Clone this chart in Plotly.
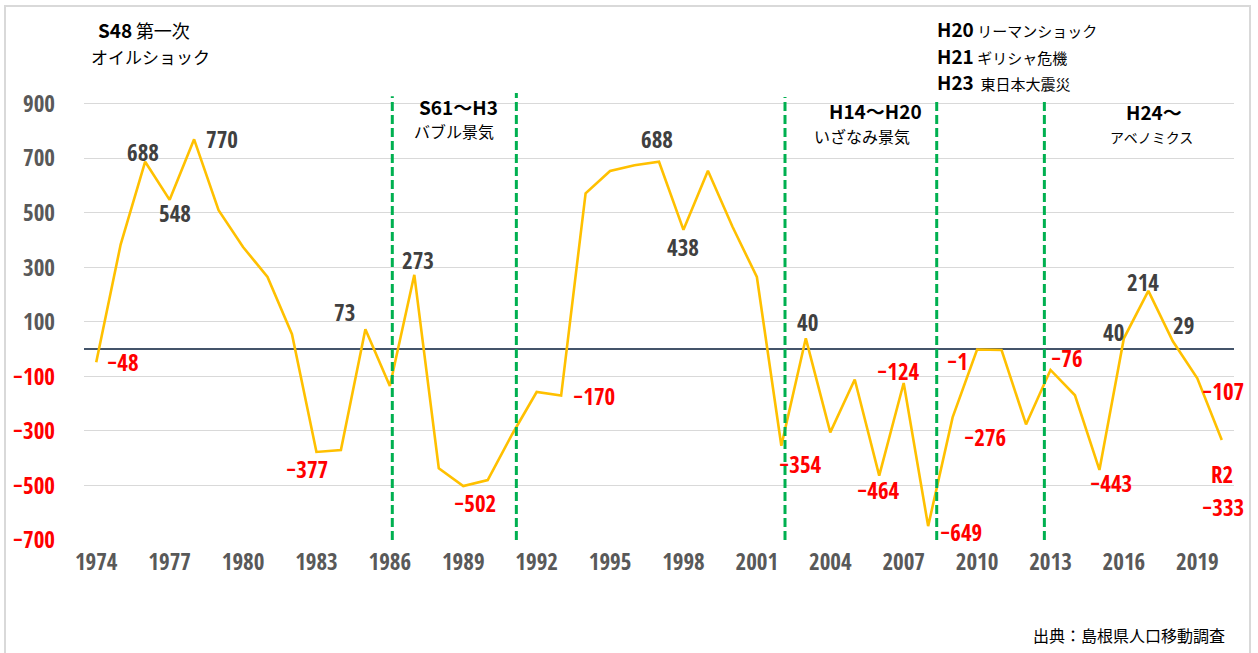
import plotly.graph_objects as go

# ---------------- data ----------------
years = list(range(1974, 2021))
values = [-48, 385, 688, 548, 770, 510, 375, 265, 55, -377,
          -370, 73, -135, 273, -437, -502, -480, -312, -157, -170,
          572, 654, 675, 688, 438, 655, 450, 265, -354, 40,
          -305, -111, -464, -124, -649, -250, -1, -3, -276, -76,
          -169, -443, 40, 214, 29, -107, -333]

x_tick_years = [1974, 1977, 1980, 1983, 1986, 1989, 1992, 1995, 1998, 2001,
                2004, 2007, 2010, 2013, 2016, 2019]
y_tick_vals = [900, 700, 500, 300, 100, -100, -300, -500, -700]

labelled_years = [1974, 1976, 1977, 1978, 1983, 1985, 1987, 1989, 1993, 1997,
                  1998, 2002, 2003, 2006, 2007, 2008, 2010, 2012, 2013, 2015,
                  2016, 2017, 2018, 2019]
period_boundaries = [1986.1, 1991.17, 2002.15, 2008.35, 2012.75]
period_tops = [928, 943, 925, 914, 914]

W, H = 1258, 653
ML, MR, MT, MB = 84, 24, 93, 113
PW, PH = W - ML - MR, H - MT - MB


def px(xp):
    return (xp - ML) / PW


def py(yp):
    return (H - MB - yp) / PH


NUM_FONT = "Open Sans Condensed, DejaVu Sans Condensed, sans-serif"
JP_FONT = "Noto Sans CJK JP"
RED = "#FF0000"
DARK = "#404040"


def fmt(v):
    return ("−" + str(abs(v))) if v < 0 else str(v)


fig = go.Figure()
fig.add_trace(go.Scatter(
    x=years, y=values, mode="lines",
    line=dict(color="#FFC000", width=2.6),
    hoverinfo="x+y", showlegend=False,
))

offsets = {
    1974: (27, 0), 1976: (-2, 10), 1977: (5, -13), 1978: (28, 0),
    1983: (-9, -17), 1985: (-21, 17), 1987: (4, 15), 1989: (12, -17),
    1993: (33, 0), 1997: (-2, 23), 1998: (0, -17), 2002: (19, -18),
    2003: (2, 16), 2006: (-1, -14), 2007: (-5, 12), 2008: (33, -6),
    2010: (-20, -12), 2012: (-41, -13), 2013: (17, 12), 2015: (12, -13),
    2016: (-10, 6), 2017: (-5, 9), 2018: (11, 16), 2019: (26, -13),
}
annotations = []
for yr in labelled_years:
    v = values[years.index(yr)]
    dx, dy = offsets[yr]
    annotations.append(dict(
        x=yr, y=v, xref="x", yref="y", text=fmt(v), showarrow=False,
        xshift=dx, yshift=dy, xanchor="center", yanchor="middle",
        font=dict(family=NUM_FONT, size=23, color=RED if v < 0 else DARK),
    ))
v_last = values[-1]
annotations.append(dict(x=years[-1], y=v_last, text="R2", showarrow=False,
                        xshift=0, yshift=-34, font=dict(family=NUM_FONT, size=23, color=RED)))
annotations.append(dict(x=years[-1], y=v_last, text=fmt(v_last), showarrow=False,
                        xshift=1, yshift=-67, font=dict(family=NUM_FONT, size=23, color=RED)))


def top_note(x, y, text, anchor="left", size=16):
    annotations.append(dict(
        x=px(x), y=py(y), xref="paper", yref="paper", text=text, showarrow=False,
        xanchor=anchor, yanchor="middle",
        font=dict(family=JP_FONT, size=size, color="#000000"),
    ))


B = '<b><span style="font-size:19px">{}</span></b>'
top_note(96, 29, B.format("S48") + ' <span style="font-size:18px">第一次</span>')
top_note(150, 57, "オイルショック", anchor="center", size=17)
top_note(458, 106, B.format("S61～H3"), anchor="center")
top_note(454, 131, "バブル景気", anchor="center")
top_note(875, 110, B.format("H14～H20"), anchor="center")
top_note(862, 136, "いざなみ景気", anchor="center")
top_note(935, 28, B.format("H20") + ' <span style="font-size:15px">リーマンショック</span>', size=15)
top_note(935, 55, B.format("H21") + ' <span style="font-size:15px">ギリシャ危機</span>', size=15)
top_note(935, 81, B.format("H23") + '  東日本大震災', size=15)
top_note(1154, 111, B.format("H24～"), anchor="center")
top_note(1151, 137, "アベノミクス", anchor="center", size=14)
top_note(1129, 635, "出典：島根県人口移動調査", anchor="center")

shapes = []
for xb, yt in zip(period_boundaries, period_tops):
    shapes.append(dict(type="line", xref="x", yref="y", x0=xb, x1=xb, y0=-700, y1=yt,
                       line=dict(color="#00B050", width=3, dash="9px,4px"), layer="above"))
shapes.append(dict(type="rect", xref="paper", yref="paper",
                   x0=px(5), x1=px(1250), y0=py(670), y1=py(6),
                   line=dict(color="#D9D9D9", width=2), fillcolor="rgba(0,0,0,0)"))

y_tick_text = [
    f'<span style="color:{RED}">{fmt(v)}</span>' if v < 0 else fmt(v)
    for v in y_tick_vals
]

fig.update_layout(
    width=W, height=H,
    margin=dict(l=ML, r=MR, t=MT, b=MB, autoexpand=False),
    paper_bgcolor="white", plot_bgcolor="white",
    annotations=annotations, shapes=shapes,
    xaxis=dict(
        range=[1973.5, 2020.5], tickvals=x_tick_years,
        ticktext=[str(y) for y in x_tick_years],
        showgrid=False, zeroline=False, showline=False, ticks="",
        tickfont=dict(family=NUM_FONT, size=23, color="#595959"),
        ticklabelstandoff=6, automargin=False,
    ),
    yaxis=dict(
        range=[-700, 940], tickvals=y_tick_vals, ticktext=y_tick_text,
        showgrid=True, gridcolor="#D9D9D9", gridwidth=1,
        zeroline=True, zerolinecolor="#44546A", zerolinewidth=2,
        showline=False, ticks="",
        tickfont=dict(family=NUM_FONT, size=23, color="#595959"),
        ticklabelstandoff=28, automargin=False,
    ),
)

fig.write_html("out.html", config={"displayModeBar": False},
               post_script="document.body.style.margin='0';")
